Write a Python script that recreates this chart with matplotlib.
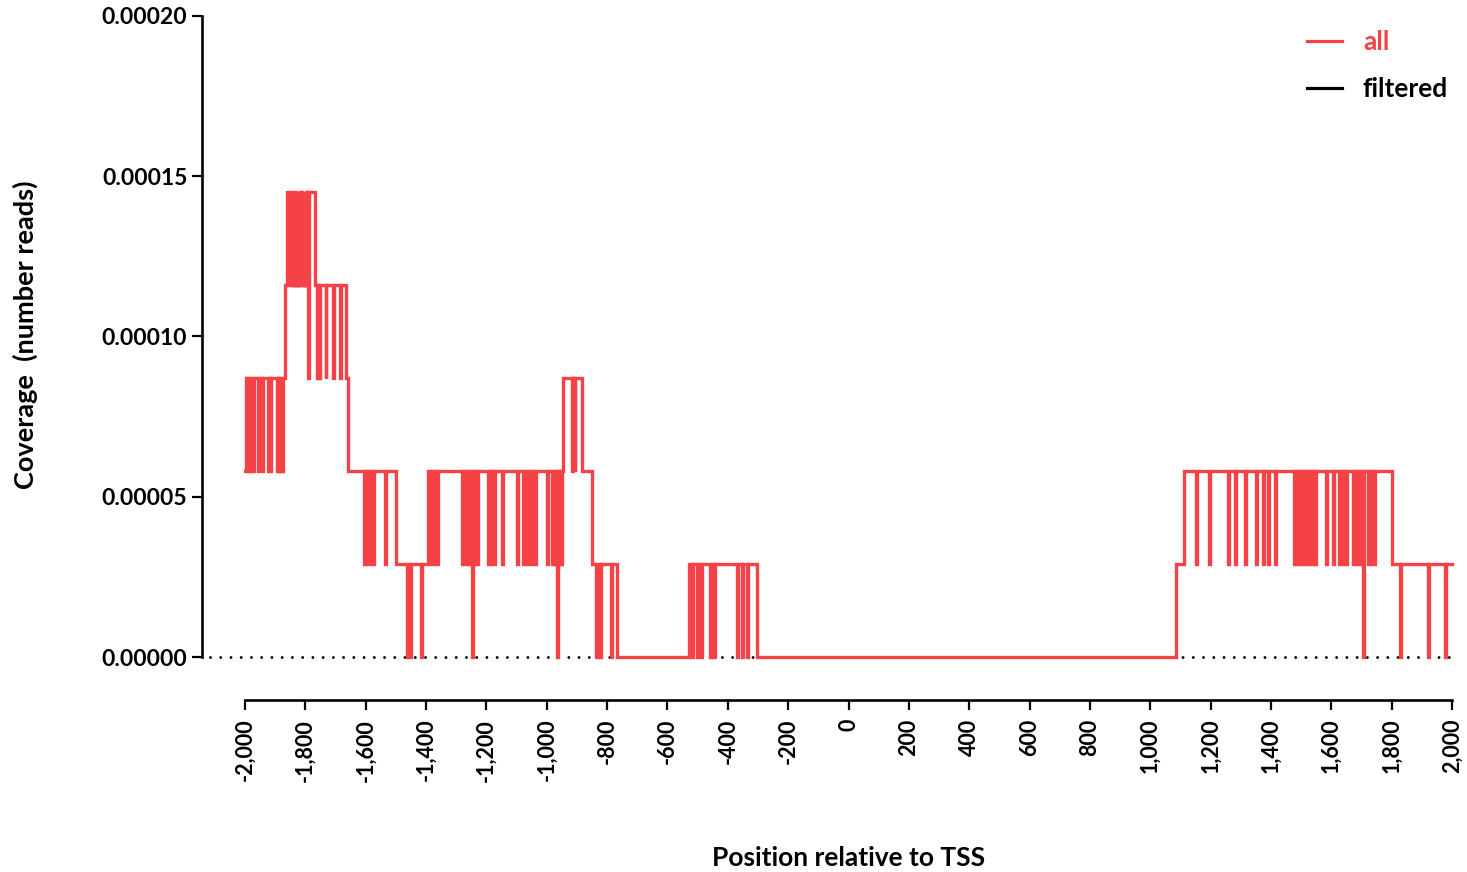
import numpy as np
import matplotlib
matplotlib.use("Agg")
import matplotlib.pyplot as plt
from matplotlib.lines import Line2D
from matplotlib.ticker import FuncFormatter, FixedLocator

# ---------------- data ----------------
unit = 2.9e-5  # coverage of one read

# base coverage segments (start position, number of reads)
seg_start = [-2000, -1867, -1861, -1768, -1665, -1659, -1499, -1393, -946, -883,
             -850, -767, -528, -303, 1086, 1113, 1802]
seg_level = [3, 4, 5, 4, 3, 2, 1, 2, 3, 2, 1, 0, 1, 0, 1, 2, 1]
seg_end = 2000

# narrow dips (start position, number of reads during the dip)
dip_pos = [-2000, -1995, -1990, -1986, -1973, -1957, -1944, -1924, -1916, -1894, -1888, -1882, -1876,
           -1851, -1844, -1840, -1836, -1832, -1828, -1824, -1820, -1816, -1812, -1808, -1804, -1800, -1796,
           -1790,
           -1760, -1755, -1733, -1707, -1684,
           -1606, -1596, -1586, -1576, -1536,
           -1463, -1453, -1417,
           -1388, -1377, -1364, -1281, -1268, -1258, -1248, -1241, -1231, -1195, -1185, -1175, -1148,
           -1098, -1079, -1065, -1052, -1039, -999, -982, -972, -966, -959, -953,
           -916, -908,
           -837, -823, -787,
           -518, -502, -488, -459, -446, -369, -353, -336,
           1152, 1195, 1258, 1281, 1315, 1351, 1374, 1391, 1414, 1477, 1487, 1497, 1507, 1517, 1527,
           1537, 1547, 1583, 1606, 1626, 1640, 1650, 1673, 1683, 1696, 1706, 1723, 1733, 1742,
           1829, 1921, 1978]
dip_level = [2, 2, 2, 2, 2, 2, 2, 2, 2, 2, 2, 2, 2,
             4, 4, 4, 4, 4, 4, 4, 4, 4, 4, 4, 4, 4, 4,
             3,
             3, 3, 3, 3, 3,
             1, 1, 1, 1, 1,
             0, 0, 0,
             1, 1, 1, 1, 1, 1, 0, 1, 1, 1, 1, 1, 1,
             1, 1, 1, 1, 1, 1, 1, 1, 0, 1, 1,
             2, 2,
             0, 0, 0,
             0, 0, 0, 0, 0, 0, 0, 0,
             1, 1, 1, 1, 1, 1, 1, 1, 1, 1, 1, 1, 1, 1, 1,
             1, 1, 1, 1, 1, 1, 1, 1, 1, 1, 0, 1, 1, 1,
             0, 0, 0]
dip_width = 3

x_ticks = list(range(-2000, 2001, 200))
y_ticks = [0.0, 0.00005, 0.00010, 0.00015, 0.00020]

# ---------------- build step series ----------------
seg_start_a = np.array(seg_start)
seg_level_a = np.array(seg_level)
dip_pos_a = np.array(dip_pos)
dip_level_a = np.array(dip_level)

bps = np.unique(np.concatenate([seg_start_a, dip_pos_a, dip_pos_a + dip_width, [seg_end]]))
bps = bps[(bps >= -2000) & (bps <= seg_end)]
levels = []
for a, b in zip(bps[:-1], bps[1:]):
    m = 0.5 * (a + b)
    lev = seg_level_a[np.searchsorted(seg_start_a, m, side="right") - 1]
    inside = (dip_pos_a <= m) & (m < dip_pos_a + dip_width)
    if inside.any():
        lev = dip_level_a[inside][0]
    levels.append(lev)
levels.append(levels[-1])
cov = np.array(levels) * unit

# ---------------- plot ----------------
plt.rcParams["font.family"] = ["Lato", "DejaVu Sans"]
plt.rcParams["font.weight"] = "bold"

fig = plt.figure(figsize=(14.67, 8.72), dpi=100)
ax = fig.add_axes([245 / 1467, 1 - 657 / 872, (1452 - 245) / 1467, (657 - 16) / 872])

red = "#F44246"
ax.plot([-2115, 2000], [0, 0], color="black", lw=2.1, linestyle=(0, (0.01, 3.5)),
        dash_capstyle="round", clip_on=False, zorder=1)
ax.step(bps, cov, where="post", color=red, lw=2.4, clip_on=False, zorder=2,
        solid_joinstyle="miter")

ax.set_xlim(-2000, 2000)
ax.set_ylim(0, 0.0002)

for s in ["top", "right"]:
    ax.spines[s].set_visible(False)
ax.spines["left"].set_position(("outward", 31))
ax.spines["bottom"].set_position(("outward", 31))
for s in ["left", "bottom"]:
    ax.spines[s].set_linewidth(1.9)

ax.xaxis.set_major_locator(FixedLocator(x_ticks))
ax.set_xticklabels([f"{v:,}" for v in x_ticks], rotation=90, fontsize=15.5, fontweight="bold")
ax.yaxis.set_major_locator(FixedLocator(y_ticks))
ax.yaxis.set_major_formatter(FuncFormatter(lambda v, p: f"{v:.5f}"))
for lab in ax.get_yticklabels():
    lab.set_fontsize(16.5)
    lab.set_fontweight("bold")
ax.tick_params(axis="both", direction="out", length=7.5, width=1.6)
ax.tick_params(axis="x", pad=6)
ax.tick_params(axis="y", pad=3)

fig.text(849 / 1467, 1 - 858 / 872, "Position relative to TSS", ha="center", va="center",
         fontsize=19, fontweight="bold")
fig.text(25 / 1467, 1 - 335 / 872, "Coverage  (number reads)", ha="center", va="center",
         rotation=90, fontsize=19.5, fontweight="bold")

handles = [Line2D([], [], color=red, lw=2.3), Line2D([], [], color="black", lw=2.3)]
leg = fig.legend(handles, ["all", "filtered"], loc="upper left",
                 bbox_to_anchor=(1283 / 1467, 1 - 6 / 872), frameon=False,
                 handlelength=1.33, handletextpad=0.8, labelspacing=0.88,
                 labelcolor="linecolor", prop={"weight": "bold", "size": 19})

fig.savefig("out.png", dpi=100)
